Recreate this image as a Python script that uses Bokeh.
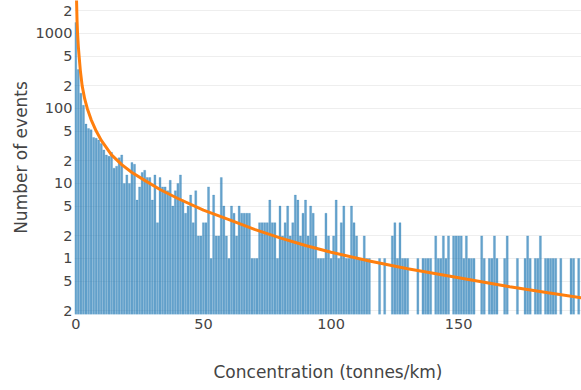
from bokeh.plotting import figure
from bokeh.models import ColumnDataSource, FixedTicker, Range1d
from bokeh.embed import file_html
from bokeh.resources import INLINE

# Histogram of events per 1 tonne/km concentration bin (bin centre = index)
counts = [
    1400, 330, 160, 110, 62, 54, 52, 41, 40, 38,
    34, 28, 24, 23, 26, 16, 17, 22, 24, 10,
    13, 10, 19, 18, 6, 9, 14, 15, 12, 12,
    6, 13, 3, 12, 9, 9, 8, 11, 5, 8,
    10, 13, 6, 4, 5, 7, 3, 8, 2, 2,
    3, 3, 9, 1, 7, 2, 2, 12, 5, 2,
    1, 5, 4, 2, 5, 4, 4, 4, 4, 1,
    1, 1, 3, 3, 3, 3, 6, 3, 3, 1,
    5, 2, 3, 5, 2, 3, 7, 6, 2, 4,
    6, 2, 5, 4, 2, 1, 1, 1, 4, 2,
    1, 2, 6, 1, 3, 5, 1, 1, 5, 3,
    2, 1, 1, 2, 1, 1, 0, 0, 0, 1,
    0, 1, 0, 0, 2, 3, 1, 3, 1, 1,
    1, 0, 0, 0, 1, 0, 1, 1, 1, 1,
    0, 2, 1, 1, 2, 1, 2, 0, 2, 2,
    2, 2, 1, 2, 1, 1, 1, 0, 0, 2,
    1, 0, 1, 1, 2, 1, 0, 0, 1, 2,
    0, 0, 0, 1, 0, 0, 1, 2, 1, 0,
    1, 1, 2, 0, 1, 1, 1, 1, 1, 0,
    1, 0, 0, 0, 1, 1, 0, 1,
]
bin_centers = list(range(len(counts)))

# Fitted decay curve
fit_x = [0.15, 0.25, 0.5, 0.7, 1.0, 1.3, 1.8, 2.5, 3.5, 4.5, 6, 8, 10, 14, 18, 22,
         27, 33, 40, 50, 60, 70, 80, 90, 100, 115, 130, 150, 170, 185, 198]
fit_y = [5900, 3270, 1470, 1000, 670, 500, 317, 200, 134, 100, 71, 50, 37.5, 24, 17.8,
         14.0, 11.0, 8.3, 6.3, 4.4, 3.3, 2.44, 1.88, 1.49, 1.21, 0.925, 0.73, 0.553,
         0.42, 0.349, 0.30]

x_ticks = [0, 50, 100, 150]
y_ticks = [0.2, 0.5, 1, 2, 5, 10, 20, 50, 100, 200, 500, 1000, 2000]
y_tick_labels = ["2", "5", "1", "2", "5", "10", "2", "5", "100", "2", "5", "1000", "2"]

FONT = "DejaVu Sans"
TEXT = "#444444"

nz = [(x, c) for x, c in zip(bin_centers, counts) if c > 0]
bars = ColumnDataSource(dict(x=[p[0] for p in nz], top=[p[1] for p in nz]))

p = figure(
    width=581, height=390,
    y_axis_type="log",
    x_range=Range1d(-0.5, 198.1),
    y_range=Range1d(0.179, 2750),
    output_backend="svg", toolbar_location=None,
    min_border_left=74, min_border_right=0, min_border_top=0, min_border_bottom=76,
    background_fill_color="white", border_fill_color="white",
)
p.outline_line_color = None

p.vbar(x="x", top="top", bottom=0.01, width=0.8, source=bars,
       fill_color="#1f77b4", fill_alpha=0.68, line_color="#1f77b4",
       line_alpha=0.5, line_width=0.4)
p.line(fit_x, fit_y, line_color="#ff7f0e", line_width=3)

# grid
p.xgrid.visible = False
p.ygrid.ticker = FixedTicker(ticks=y_ticks)
p.ygrid.grid_line_color = "#eeeeee"
p.ygrid.grid_line_width = 1

# axes
for ax in (p.xaxis[0], p.yaxis[0]):
    ax.axis_line_color = None
    ax.major_tick_line_color = None
    ax.minor_tick_line_color = None
    ax.major_tick_out = 0
    ax.minor_tick_out = 0
    ax.major_label_text_font = FONT
    ax.major_label_text_font_size = "14.5px"
    ax.major_label_text_color = TEXT
    ax.axis_label_text_font = FONT
    ax.axis_label_text_font_size = "17px"
    ax.axis_label_text_font_style = "normal"
    ax.axis_label_text_color = TEXT

p.xaxis.ticker = FixedTicker(ticks=x_ticks)
p.xaxis.axis_label = "Concentration (tonnes/km)"
p.xaxis.major_label_standoff = 4
p.xaxis.axis_label_standoff = 30

p.yaxis.ticker = FixedTicker(ticks=y_ticks)
p.yaxis.major_label_overrides = {t: s for t, s in zip(y_ticks, y_tick_labels)}
p.yaxis.axis_label = "Number of events"
p.yaxis.major_label_standoff = 2
p.yaxis.axis_label_standoff = 2

open("out.html", "w").write(file_html(p, INLINE))
